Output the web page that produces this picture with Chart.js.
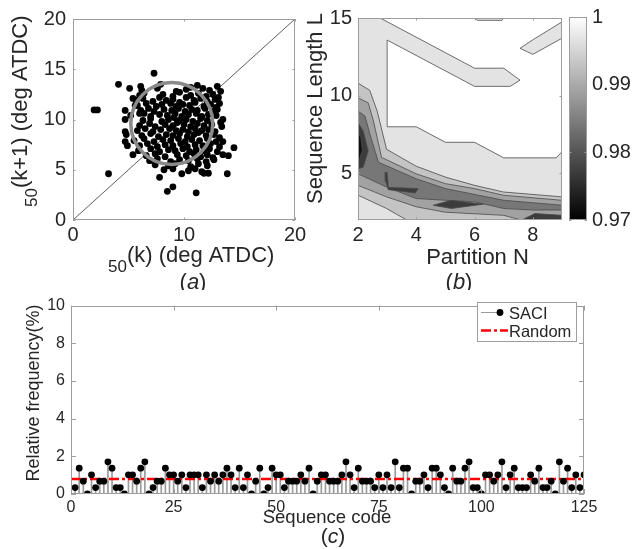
<!DOCTYPE html>
<html><head><meta charset="utf-8">
<script src="https://cdn.jsdelivr.net/npm/chart.js@4.4.1/dist/chart.umd.min.js"></script>
<style>
html,body{margin:0;padding:0;background:#fff;}
#wrap{position:relative;width:634px;height:549px;overflow:hidden;background:#fff;}
canvas{position:absolute;}
</style></head><body><div id="wrap">
<canvas id="ca" width="310" height="290" style="left:0px;top:0px"></canvas>
<canvas id="cb" width="276" height="290" style="left:296px;top:0px"></canvas>
<canvas id="cbar" width="74" height="290" style="left:560px;top:0px"></canvas>
<canvas id="cc" width="634" height="259" style="left:0px;top:290px"></canvas>
</div>
<script>
// ---------------- DATA ----------------
// (a) theta50(k) vs theta50(k+1), deg ATDC
const scatterA = [
 [1.9,10.95],[2.2,10.95],[3.2,4.6],[4.1,13.5],[5.1,13.1],[7.3,14.6],[4.7,10.9],[4.7,10.0],[4.7,8.8],[4.8,8.5],
 [4.7,7.8],[4.9,7.4],[5.4,6.5],[7.8,4.25],[8.5,2.85],[9.0,3.3],[9.8,4.6],[11.1,2.7],[14.5,7.2],[13.9,4.6],
 [11.8,4.65],[12.2,4.65],[13.0,13.3],[13.3,12.8],[14.0,6.4],[13.5,10.0],[13.5,7.8],[5.4,12.1],[5.6,11.4],[6.0,10.6],
 [6.1,13.3],[7.9,13.5],[10.6,13.2],[11.2,13.4],
 [6.2,12.9],[7.6,13.1],[9.3,12.8],[10.2,13.0],[11.7,13.1],[12.3,12.9],
 [6.0,12.4],[6.4,12.6],[8.1,12.5],[9.0,12.3],[9.6,12.7],[10.6,12.4],[11.3,12.6],[12.0,12.3],[12.6,12.5],[13.1,12.2],
 [5.7,11.9],[6.3,12.1],[7.2,11.8],[7.8,12.2],[8.4,11.9],[9.0,12.0],[9.6,11.7],[10.2,12.2],[10.9,11.9],[11.5,12.1],[12.1,11.8],[12.8,12.0],[13.2,11.6],
 [5.8,11.4],[6.6,11.6],[7.5,11.3],[8.0,11.5],[8.8,11.6],[9.3,11.3],[9.9,11.5],[10.5,11.4],[11.0,11.7],[11.8,11.3],[12.4,11.5],[12.9,11.2],
 [6.1,10.9],[6.8,11.1],[7.3,10.8],[8.2,11.0],[8.9,10.9],[9.5,11.1],[10.1,10.8],[10.7,11.0],[11.2,10.9],[11.9,11.1],[12.6,10.8],[13.0,11.0],
 [5.2,10.4],[6.4,10.6],[7.0,10.3],[7.8,10.5],[8.5,10.4],[9.2,10.6],[9.8,10.3],[10.4,10.5],[11.1,10.6],[11.6,10.3],[12.2,10.5],[12.9,10.4],
 [6.3,9.9],[7.0,10.1],[8.0,9.8],[8.6,10.0],[9.1,10.2],[9.6,9.9],[10.2,10.0],[10.8,9.8],[11.5,10.1],[12.1,9.9],[13.3,9.7],
 [6.0,9.4],[6.9,9.6],[7.4,9.3],[8.3,9.5],[9.0,9.4],[9.4,9.7],[10.0,9.5],[10.6,9.3],[11.2,9.6],[11.8,9.4],[12.5,9.5],[13.4,9.3],
 [5.8,8.9],[6.5,9.1],[7.2,8.8],[7.9,9.0],[8.7,9.1],[9.3,8.9],[9.9,9.0],[10.4,8.8],[11.0,9.1],[11.6,8.9],[12.2,9.0],[12.8,8.8],
 [6.2,8.4],[7.0,8.6],[7.7,8.3],[8.4,8.5],[9.0,8.4],[9.6,8.6],[10.3,8.3],[10.9,8.5],[11.3,8.7],[12.0,8.4],[12.7,8.5],[13.2,8.2],
 [5.5,7.9],[6.4,8.1],[7.3,7.8],[8.1,8.0],[8.8,7.9],[9.5,8.1],[10.1,7.8],[10.7,8.0],[11.4,7.9],[12.1,8.1],[12.9,7.8],
 [6.0,7.4],[6.7,7.6],[7.6,7.3],[8.3,7.5],[9.0,7.4],[9.7,7.6],[10.3,7.3],[11.0,7.5],[11.7,7.4],[12.4,7.6],[13.2,7.3],
 [5.9,6.9],[7.0,7.1],[7.8,6.8],[8.6,7.0],[9.2,6.9],[9.9,7.1],[10.5,6.8],[11.1,7.0],[11.8,6.9],[12.3,7.1],[13.0,6.8],
 [6.6,6.4],[7.4,6.6],[8.3,6.3],[9.4,6.5],[10.2,6.4],[10.9,6.6],[11.5,6.3],[12.1,6.5],[12.6,6.2],[13.5,6.5],
 [6.9,5.9],[7.6,6.1],[8.8,5.8],[9.6,6.0],[10.4,5.9],[11.2,6.1],[12.0,5.8],[12.7,6.0],
 [7.4,5.5],[8.6,5.4],[9.2,5.6],[10.6,5.3],[11.3,5.6],[12.1,5.4],
 [8.2,5.0],[9.0,5.1],[10.4,4.9],[11.0,5.1],[11.6,4.8]
];
const diagonalA = [[0,0],[20,20]];
const circleCenterA = [8.9, 9.6];
const ticksAx = [0,10,20];
const ticksAy = [0,5,10,15,20];

// (b) contour regions, Partition N vs Sequence Length L
const ticksBx = [2,4,6,8];
const ticksBy = [5,10,15];
const cbarTicks = [0.97,0.98,0.99,1];
const cbarRange = [0.97,1];
const regionBase = [[2,2],[9,2],[9,15],[2,15],[2,2]];
const regionWhite = [[2.76,15],[6.02,15],[6.1,14.85],[6.94,14.85],[7,15],[9,15],[9,14.75],[8,13.6],[7.56,13.05],[8,12.66],[9,13.7],[9,6.4],[8.8,6],[7,6],[6,7],[5,7],[4,8],[3,8],[3,13.58],[6,10.6],[7.22,10.6],[7.56,11],[7,11.77],[6,11.77],[2.76,15]];
const regionL2 = [[2,10.81],[2.4,10.35],[2.66,9.0],[2.98,6.55],[4,5.46],[5,4.76],[6,4.23],[7,3.8],[9,3.49],[9,2],[3.67,2],[2.98,2.74],[2,3.6],[2,10.81]];
const regionL3 = [[2,9.86],[2.35,9.54],[2.53,8.37],[2.81,6.03],[4,4.97],[5,4.34],[6,4.02],[7,3.59],[9,3.27],[9,2],[7.6,2],[7,2.3],[5,2.5],[4,2.85],[2.98,3.49],[2,4.23],[2,9.86]];
const regionL4 = [[2,9.01],[2.24,8.69],[2.41,7.52],[2.7,5.72],[4,4.65],[5,4.02],[7,3.27],[9,2.95],[9,2.64],[8,2.64],[7,2.74],[6,3.17],[5,3.27],[4,3.38],[2.98,4.12],[2,4.97],[2,9.01]];
const regionL5a = [[2,8.27],[2.18,7.73],[2.35,6.46],[2.18,5.4],[2,5.29],[2,8.27]];
const regionL5b = [[2.93,5.08],[3.0,5.05],[3.04,4.1],[4.07,4.02],[3.96,3.74],[3.04,3.95],[2.95,4.5],[2.93,5.08]];
const regionL5c = [[4.58,2.95],[5.2,3.27],[6.3,3.02],[5.2,2.74],[4.58,2.95]];
const regionL5d = [[7.62,2],[8.07,2.42],[9,2.3],[9,2],[7.62,2]];
const regionL6 = [[2,7.7],[2.1,7.3],[2.15,6.5],[2.05,5.9],[2,5.8],[2,7.7]];
const regionPolys = [regionBase, regionWhite, regionL2, regionL3, regionL4, regionL5a, regionL5b, regionL5c, regionL5d, regionL6];
const regionLevels = [0.9967, 1.0, 0.993, 0.989, 0.984, 0.977, 0.977, 0.977, 0.977, 0.972];

// (c) relative frequency of each sequence code
const sequenceCodes = Array.from({length:125}, (_, i) => i + 1);
const saciFreq = [
 0.34,1.37,0.68,0,1.02,0.34,0.68,0.68,1.71,1.37,
 0.34,0.34,0,1.02,1.02,0.68,1.37,1.71,0,0.34,
 0.68,0.68,1.37,1.02,1.02,0.68,1.02,0.34,1.02,1.02,
 1.02,0.34,1.02,0.68,1.02,0.68,1.02,1.37,1.02,0.34,
 1.37,0.34,1.02,0,0.68,1.37,0,0.34,1.37,1.02,
 1.02,0.34,0.68,0.68,0.68,1.02,0.68,1.37,0,0.68,
 1.02,1.02,0.68,0.68,0.68,1.02,1.71,1.02,0.34,1.37,
 0.68,0.68,0.68,0.34,1.02,0.34,1.02,0.34,1.71,0.34,
 1.37,1.37,0,0.68,0.68,1.02,0.34,1.37,1.37,1.02,
 0.34,0,1.37,0.68,0.68,1.37,1.71,0.34,0.34,0,
 1.02,1.02,0.68,1.02,1.71,0.34,1.02,1.37,0.34,0.34,
 0.34,1.02,0.68,1.37,0.34,0.34,0.68,0,1.71,0.68,
 1.37,0.34,1.02,0.34,1.02
];
const randomLevel = 0.8;
const codeRange = [0,125];
const ticksCx = [0,25,50,75,100,125];
const ticksCy = [0,2,4,6,8,10];

// ---------------- DRAWING ----------------
const FONT = '"Liberation Sans", Arial, Helvetica, sans-serif';
const TXT = '#262626';
const AXC = '#9d9d9d';
Chart.defaults.font.family = FONT;
Chart.defaults.color = TXT;

function fixedTicks(arr){ return s => { s.ticks = arr.map(v => ({value:v})); }; }

function drawRich(ctx, it, ox, oy){
  ctx.save();
  ctx.fillStyle = it.color || TXT;
  ctx.textBaseline = 'alphabetic';
  ctx.textAlign = 'left';
  const fonts = it.parts.map(p => (p.style || 'normal') + ' ' + p.size + 'px ' + FONT);
  let total = 0;
  const widths = it.parts.map((p, i) => { ctx.font = fonts[i]; const w = ctx.measureText(p.t).width; total += w; return w; });
  ctx.translate(it.x - ox, it.y - oy);
  if (it.rotate) ctx.rotate(-Math.PI / 2);
  let x = it.align === 'center' ? -total / 2 : 0;
  it.parts.forEach((p, i) => { ctx.font = fonts[i]; ctx.fillText(p.t, x, p.dy || 0); x += widths[i]; });
  ctx.restore();
}

function decor(cfg){
  return {
    id: 'decor',
    afterDatasetsDraw(chart){
      const ctx = chart.ctx, a = chart.chartArea;
      const L = cfg.tickLen;
      ctx.save();
      ctx.strokeStyle = AXC; ctx.lineWidth = 1;
      ctx.beginPath();
      cfg.axes.forEach(id => {
        const s = chart.scales[id];
        s.ticks.forEach(t => {
          const p = Math.round(s.getPixelForValue(t.value)) + 0.5;
          if (s.isHorizontal()) {
            ctx.moveTo(p, a.bottom); ctx.lineTo(p, a.bottom - L);
            ctx.moveTo(p, a.top); ctx.lineTo(p, a.top + L);
          } else {
            ctx.moveTo(a.left, p); ctx.lineTo(a.left + L, p);
            ctx.moveTo(a.right, p); ctx.lineTo(a.right - L, p);
          }
        });
      });
      ctx.stroke();
      ctx.strokeRect(Math.round(a.left) + 0.5, Math.round(a.top) + 0.5, Math.round(a.width) - 1, Math.round(a.height) - 1);
      ctx.restore();
    },
    afterDraw(chart){
      const ctx = chart.ctx;
      (cfg.texts || []).forEach(it => drawRich(ctx, it, cfg.ox, cfg.oy));
      if (cfg.legend) cfg.legend(chart, ctx);
    }
  };
}

const sub = (main, size) => [{t:'50', size:17, dy:10}, {t:main, size:size}];
const panelLabel = (ch, x, y, size) => ({x, y, align:'center', parts:[{t:'(', size},{t:ch, size, style:'italic'},{t:')', size}]});

// ---- (a) ----
new Chart(document.getElementById('ca'), {
  type: 'scatter',
  data: { datasets: [
    { data:[{x:circleCenterA[0], y:circleCenterA[1]}], pointRadius:41, pointBorderWidth:3.5,
      pointBorderColor:'#8a8a8a', pointBackgroundColor:'rgba(0,0,0,0)', order:0 },
    { data: scatterA.map(([x,y]) => ({x,y})), pointRadius:3.4, pointBorderWidth:0, pointBackgroundColor:'#000', order:1 },
    { data: diagonalA.map(([x,y]) => ({x,y})), showLine:true, borderColor:'#5e5e5e', borderWidth:1, pointRadius:0, order:2 }
  ]},
  options: {
    responsive:false, animation:false, devicePixelRatio:1, events:[],
    layout:{ padding:{left:0, right:15, top:16, bottom:0}, autoPadding:false },
    plugins:{ legend:{display:false}, tooltip:{enabled:false} },
    scales:{
      x:{ type:'linear', min:0, max:20, afterBuildTicks: fixedTicks(ticksAx),
          ticks:{ padding:3, font:{size:20}, maxRotation:0, color:TXT }, grid:{display:false, drawTicks:false}, border:{display:false},
          afterFit(s){ s.height = 70; } },
      y:{ type:'linear', min:0, max:20, afterBuildTicks: fixedTicks(ticksAy),
          ticks:{ padding:7, font:{size:20}, color:TXT }, grid:{display:false, drawTicks:false}, border:{display:false},
          afterFit(s){ s.width = 73; } }
    }
  },
  plugins:[decor({ axes:['x','y'], tickLen:2.5, ox:0, oy:0, texts:[
    {x:27, y:207, rotate:true, parts: sub('(k+1) (deg ATDC)', 22)},
    {x:108, y:262, parts: sub('(k) (deg ATDC)', 22)},
    panelLabel('a', 193, 289, 22)
  ]})]
});

// ---- (b) ----
function grayOf(v){ const g = Math.round(255 * Math.max(0, Math.min(1, (v - cbarRange[0]) / (cbarRange[1] - cbarRange[0])))); return 'rgb(' + g + ',' + g + ',' + g + ')'; }
function onEdge(a, b){
  return (a[0] === 2 && b[0] === 2) || (a[0] === 9 && b[0] === 9) || (a[1] === 2 && b[1] === 2) || (a[1] === 15 && b[1] === 15);
}
const contourDatasets = [];
regionPolys.forEach((poly, i) => {
  const pts = poly.map(([x,y]) => ({x,y}));
  contourDatasets.push({ data: pts, fill:'shape', backgroundColor: grayOf(regionLevels[i]),
    borderWidth:0, borderColor:'rgba(0,0,0,0)', pointRadius:0, tension:0, order: 200 - 2 * i });
  if (i > 0) contourDatasets.push({ data: pts, fill:false, borderWidth:0.8, pointRadius:0, tension:0,
    borderColor:'#4a4a4a', order: 199 - 2 * i,
    segment:{ borderColor: c => onEdge(poly[c.p0DataIndex], poly[c.p1DataIndex]) ? 'rgba(0,0,0,0)' : '#4a4a4a' } });
});
new Chart(document.getElementById('cb'), {
  type: 'line',
  data: { datasets: contourDatasets },
  options: {
    responsive:false, animation:false, devicePixelRatio:1, events:[],
    layout:{ padding:{left:0, right:10, top:16, bottom:0}, autoPadding:false },
    plugins:{ legend:{display:false}, tooltip:{enabled:false} },
    scales:{
      x:{ type:'linear', min:2, max:9, afterBuildTicks: fixedTicks(ticksBx),
          ticks:{ padding:3, font:{size:20}, maxRotation:0, color:TXT }, grid:{display:false, drawTicks:false}, border:{display:false},
          afterFit(s){ s.height = 70; } },
      y:{ type:'linear', min:2, max:15, afterBuildTicks: fixedTicks(ticksBy),
          ticks:{ padding:6, font:{size:20}, color:TXT }, grid:{display:false, drawTicks:false}, border:{display:false},
          afterFit(s){ s.width = 62; } }
    }
  },
  plugins:[decor({ axes:['x','y'], tickLen:2.5, ox:296, oy:0, texts:[
    {x:322, y:108.5, rotate:true, align:'center', parts:[{t:'Sequence Length L', size:22}]},
    {x:477.5, y:264, align:'center', parts:[{t:'Partition N', size:22}]},
    panelLabel('b', 459, 289, 22)
  ]})]
});

// ---- colorbar ----
new Chart(document.getElementById('cbar'), {
  type: 'bar',
  data: { labels:['cb'], datasets:[{ data:[cbarRange], borderWidth:0, barPercentage:1, categoryPercentage:1,
    backgroundColor: c => { const a = c.chart.chartArea; if (!a) return '#888';
      const g = c.chart.ctx.createLinearGradient(0, a.bottom, 0, a.top);
      g.addColorStop(0, grayOf(cbarRange[0])); g.addColorStop(1, grayOf(cbarRange[1])); return g; } }]},
  options: {
    responsive:false, animation:false, devicePixelRatio:1, events:[],
    layout:{ padding:{left:9, right:0, top:16, bottom:70}, autoPadding:false },
    plugins:{ legend:{display:false}, tooltip:{enabled:false} },
    scales:{
      x:{ display:false },
      y:{ position:'right', min:cbarRange[0], max:cbarRange[1], afterBuildTicks: fixedTicks(cbarTicks),
          ticks:{ padding:5, font:{size:20}, color:TXT, callback: v => String(Math.round(v * 100) / 100) },
          grid:{display:false, drawTicks:false}, border:{display:false}, afterFit(s){ s.width = 47; } }
    }
  },
  plugins:[decor({ axes:['y'], tickLen:2.5, ox:560, oy:0, texts:[] })]
});

// ---- (c) ----
const saciPts = sequenceCodes.map((c, i) => ({x:c, y:saciFreq[i]}));
new Chart(document.getElementById('cc'), {
  type: 'bar',
  data: { datasets: [
    { type:'scatter', data: saciPts, pointRadius:3.4, pointBorderWidth:0, pointBackgroundColor:'#000', order:0 },
    { type:'line', data: codeRange.map(x => ({x, y:randomLevel})), borderColor:'#ff0000', borderWidth:2.5,
      borderDash:[10,3,3,3], pointRadius:0, order:1 },
    { type:'bar', data: saciPts, backgroundColor:'#9a9a9a', borderWidth:0, barThickness:1, grouped:false, order:2 }
  ]},
  options: {
    responsive:false, animation:false, devicePixelRatio:1, events:[],
    layout:{ padding:{left:0, right:50, top:4, bottom:0}, autoPadding:false },
    plugins:{ legend:{display:false}, tooltip:{enabled:false} },
    scales:{
      x:{ type:'linear', min:codeRange[0], max:codeRange[1], offset:false, afterBuildTicks: fixedTicks(ticksCx),
          ticks:{ padding:4, font:{size:16}, maxRotation:0, color:TXT }, grid:{display:false, drawTicks:false, offset:false}, border:{display:false},
          afterFit(s){ s.height = 55; } },
      y:{ type:'linear', min:0, max:10, afterBuildTicks: fixedTicks(ticksCy),
          ticks:{ padding:6, font:{size:16}, color:TXT }, grid:{display:false, drawTicks:false}, border:{display:false},
          afterFit(s){ s.width = 71; } }
    }
  },
  plugins:[decor({ axes:['x','y'], tickLen:5, ox:0, oy:290, texts:[
    {x:39, y:393, rotate:true, align:'center', parts:[{t:'Relative frequency(%)', size:18}]},
    {x:327, y:523, align:'center', parts:[{t:'Sequence code', size:18.5}]},
    panelLabel('c', 333, 543, 21)
  ], legend: (chart, ctx) => {
    const oy = 290;
    ctx.save();
    ctx.fillStyle = '#fff';
    ctx.fillRect(478, 303 - oy, 98, 38);
    ctx.strokeStyle = AXC; ctx.lineWidth = 1;
    ctx.strokeRect(477.5, 302.5 - oy, 99, 39);
    ctx.strokeStyle = '#9a9a9a'; ctx.beginPath(); ctx.moveTo(481, 312.5 - oy); ctx.lineTo(500, 312.5 - oy); ctx.stroke();
    ctx.fillStyle = '#000'; ctx.beginPath(); ctx.arc(500, 312.5 - oy, 3.4, 0, Math.PI * 2); ctx.fill();
    ctx.strokeStyle = '#ff0000'; ctx.lineWidth = 2.5; ctx.setLineDash([10,3,3,3]);
    ctx.beginPath(); ctx.moveTo(481, 330.5 - oy); ctx.lineTo(508, 330.5 - oy); ctx.stroke();
    ctx.setLineDash([]);
    ctx.fillStyle = TXT; ctx.font = '16.5px ' + FONT; ctx.textBaseline = 'alphabetic'; ctx.textAlign = 'left';
    ctx.fillText('SACI', 509, 318.5 - oy);
    ctx.fillText('Random', 509, 336.5 - oy);
    ctx.restore();
  }})]
});
</script>
</body></html>
